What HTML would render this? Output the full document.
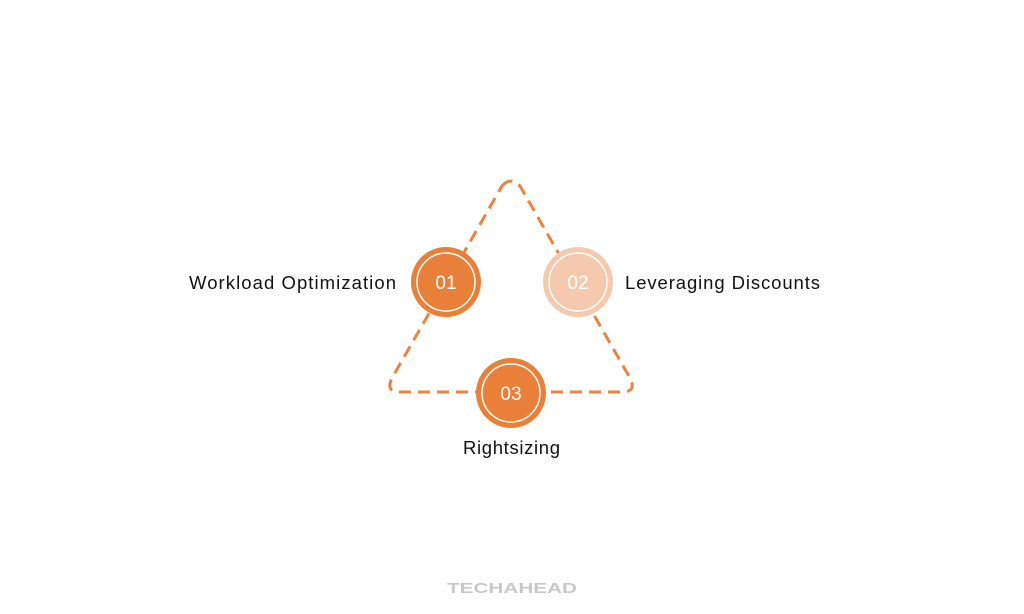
<!DOCTYPE html>
<html><head><style>
body{margin:0;background:#fff;width:1024px;height:609px;overflow:hidden}
</style></head><body>
<svg width="1024" height="609" viewBox="0 0 1024 609" xmlns="http://www.w3.org/2000/svg" font-family="Liberation Sans, sans-serif">
<path d="M502 186 Q511 176 520 186 L630 378 Q637 392 622 392 L400 392 Q385 392 392 378 Z" fill="none" stroke="#e8843f" stroke-width="3" stroke-dasharray="12 7" stroke-linejoin="round"/>
<g>
<circle cx="446" cy="282" r="35" fill="#e8803a"/>
<circle cx="446" cy="282" r="29" fill="none" stroke="#fff" stroke-width="1.5"/>
<text x="446" y="289" font-size="19" fill="#fff" text-anchor="middle">01</text>
<circle cx="578" cy="282" r="35" fill="#f5c9ae"/>
<circle cx="578" cy="282" r="29" fill="none" stroke="#fff" stroke-width="1.5"/>
<text x="578" y="289" font-size="19" fill="#fff" text-anchor="middle">02</text>
<circle cx="511" cy="393" r="35" fill="#e8803a"/>
<circle cx="511" cy="393" r="29" fill="none" stroke="#fff" stroke-width="1.5"/>
<text x="511" y="400" font-size="19" fill="#fff" text-anchor="middle">03</text>
</g>
<text x="189" y="289" font-size="18.5" fill="#111" textLength="207" lengthAdjust="spacing">Workload Optimization</text>
<text x="625" y="289" font-size="18.5" fill="#111" textLength="195" lengthAdjust="spacing">Leveraging Discounts</text>
<text x="463" y="454" font-size="18.5" fill="#111" textLength="97" lengthAdjust="spacing">Rightsizing</text>
<text x="447" y="593" font-size="15" font-weight="bold" fill="#c8c8c8" textLength="130" lengthAdjust="spacingAndGlyphs">TECHAHEAD</text>
</svg>
</body></html>
